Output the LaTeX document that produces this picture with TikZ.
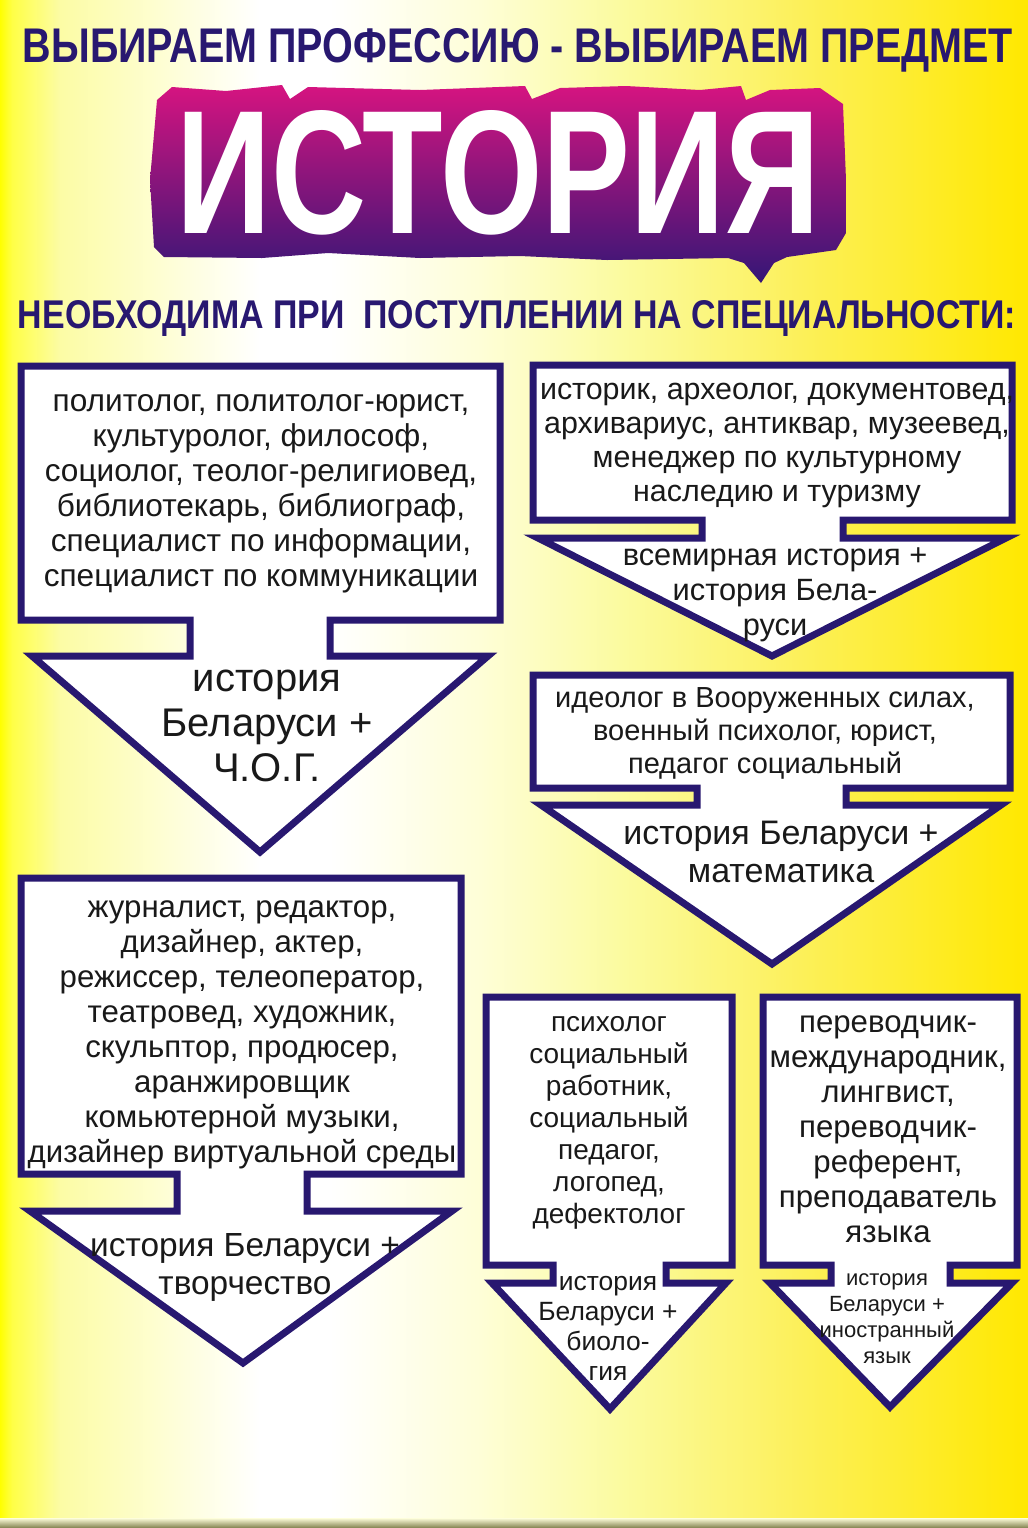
\documentclass[tikz,border=0pt]{standalone}
\usepackage{fontspec}
\setmainfont{Liberation Sans}
\usepackage{graphicx}
\definecolor{sinij}{RGB}{40,24,112}
\definecolor{malina}{RGB}{214,20,128}
\definecolor{fiolet}{RGB}{52,22,118}
\definecolor{zh0}{RGB}{255,255,0}
\definecolor{zh1}{RGB}{255,255,70}
\definecolor{zh2}{RGB}{252,252,165}
\definecolor{zh3}{RGB}{254,254,215}
\definecolor{zh4}{RGB}{251,251,160}
\definecolor{zh5}{RGB}{252,240,90}
\definecolor{zh6}{RGB}{255,232,0}
\begin{document}
\begin{tikzpicture}[x=0.5pt,y=-0.5pt]
\tikzset{ramka/.style={draw=sinij,line width=3.5pt,fill=white},
tekst/.style={align=center,inner sep=0pt,text=black!90},
zagolovok/.style={inner sep=0pt,anchor=base,text=sinij,font=\bfseries}}
\useasboundingbox (0,0) rectangle (1028,1528);
% fon
\shade[left color=zh0,right color=zh1] (0,0) rectangle (12,1528);
\shade[left color=zh1,right color=zh2] (12,0) rectangle (60,1528);
\shade[left color=zh2,right color=zh3] (60,0) rectangle (170,1528);
\shade[left color=zh3,right color=white] (170,0) rectangle (260,1528);
\fill[white] (260,0) rectangle (330,1528);
\shade[left color=white,right color=zh3] (330,0) rectangle (480,1528);
\shade[left color=zh3,right color=zh4] (480,0) rectangle (620,1528);
\shade[left color=zh4,right color=zh5] (620,0) rectangle (800,1528);
\shade[left color=zh5,right color=zh6] (800,0) rectangle (1028,1528);
\shade[top color=white!60!zh2,bottom color=gray!80!olive] (0,1518) rectangle (1028,1528);
% zagolovok
\node[zagolovok] (vybor) at (518,62) {\resizebox{495pt}{17pt}{ВЫБИРАЕМ ПРОФЕССИЮ - ВЫБИРАЕМ ПРЕДМЕТ}};
\shade[top color=malina,bottom color=fiolet] (157,100)--(172,87)--(226,91)--(282,85)--(290,99)--(308,87)--(420,90)--(525,86)--(532,99)--(560,88)--(626,86)--(700,90)--(741,86)--(746,100)--(770,90)--(820,88)--(843,104)--(846,180)--(846,233)--(836,250)--(787,257)--(774,263)--(761,283)--(744,263)--(728,258)--(607,260)--(520,256)--(420,258)--(328,253)--(262,258)--(164,257)--(154,247)--(150,180)--cycle;
\node[zagolovok,text=white] (istoriya) at (498,233) {\resizebox{321.5pt}{61.5pt}{ИСТОРИЯ}};
\node[zagolovok] (nuzhna) at (517,328) {\resizebox{499pt}{14pt}{НЕОБХОДИМА ПРИ~~ПОСТУПЛЕНИИ НА СПЕЦИАЛЬНОСТИ:}};
% strelki
\draw[ramka] (21,366)--(500,366)--(500,620)--(330,620)--(330,656)--(488,656)--(260,852)--(32,656)--(190,656)--(190,620)--(21,620)--cycle;
\draw[ramka] (533,365)--(1012,365)--(1012,520)--(843,520)--(843,538)--(1006,538)--(772,656)--(538,538)--(702,538)--(702,520)--(533,520)--cycle;
\draw[ramka] (533,675)--(1010,675)--(1010,788)--(846,788)--(846,805)--(1001,805)--(772,964)--(541,805)--(697,805)--(697,788)--(533,788)--cycle;
\draw[ramka] (21,878)--(461,878)--(461,1174)--(307,1174)--(307,1211)--(452,1211)--(243,1363)--(30,1211)--(177,1211)--(177,1174)--(21,1174)--cycle;
\draw[ramka] (486,997)--(732,997)--(732,1265)--(666,1265)--(666,1283)--(726,1283)--(610,1409)--(492,1283)--(553,1283)--(553,1265)--(486,1265)--cycle;
\draw[ramka] (763,997)--(1017,997)--(1017,1265)--(950,1265)--(950,1283)--(1012,1283)--(890,1407)--(770,1283)--(831,1283)--(831,1265)--(763,1265)--cycle;
% teksty
\node[tekst,font=\fontsize{15.8}{17.5}\selectfont] (prof1) at (261,494) {политолог, политолог-юрист,\\культуролог, философ,\\социолог, теолог-религиовед,\\библиотекарь, библиограф,\\специалист по информации,\\специалист по коммуникации};
\node[tekst,font=\fontsize{20}{22.5}\selectfont] (pred1) at (267,726) {история\\Беларуси +\\Ч.О.Г.};
\node[tekst,font=\fontsize{15.2}{17}\selectfont] (prof2) at (777,445) {историк, археолог, документовед,\\архивариус, антиквар, музеевед,\\менеджер по культурному\\наследию и туризму};
\node[tekst,font=\fontsize{15.4}{17.5}\selectfont] (pred2) at (775,595) {всемирная история +\\история Бела-\\руси};
\node[tekst,font=\fontsize{14.5}{16.5}\selectfont] (prof3) at (765,733) {идеолог в Вооруженных силах,\\военный психолог, юрист,\\педагог социальный};
\node[tekst,font=\fontsize{17}{19}\selectfont] (pred3) at (781,852) {история Беларуси +\\математика};
\node[tekst,font=\fontsize{15.6}{17.5}\selectfont] (prof4) at (242,1035) {журналист, редактор,\\дизайнер, актер,\\режиссер, телеоператор,\\театровед, художник,\\скульптор, продюсер,\\аранжировщик\\комьютерной музыки,\\дизайнер виртуальной среды};
\node[tekst,font=\fontsize{16.7}{19}\selectfont] (pred4) at (245,1267) {история Беларуси +\\творчество};
\node[tekst,font=\fontsize{14}{16}\selectfont] (prof5) at (609,1123) {психолог\\социальный\\работник,\\социальный\\педагог,\\логопед,\\дефектолог};
\node[tekst,font=\fontsize{13.2}{15}\selectfont] (pred5) at (608,1328) {история\\Беларуси +\\биоло-\\гия};
\node[tekst,font=\fontsize{15.6}{17.5}\selectfont] (prof6) at (888,1129) {переводчик-\\международник,\\лингвист,\\переводчик-\\референт,\\преподаватель\\языка};
\node[tekst,font=\fontsize{11}{13}\selectfont] (pred6) at (887,1319) {история\\Беларуси +\\иностранный\\язык};
\end{tikzpicture}
\end{document}
